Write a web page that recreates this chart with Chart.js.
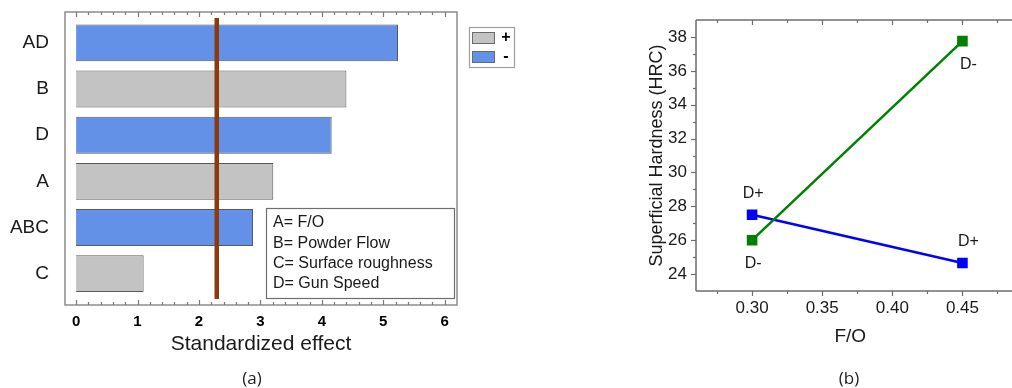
<!DOCTYPE html>
<html>
<head>
<meta charset="utf-8">
<script src="https://cdn.jsdelivr.net/npm/chart.js@4.4.1/dist/chart.umd.min.js"></script>
<style>
  html, body { margin: 0; padding: 0; background: #fff; width: 1012px; height: 388px; overflow: hidden; }
  #wrapA { position: absolute; left: 0; top: 0; width: 560px; height: 388px; }
  #wrapB { position: absolute; left: 560px; top: 0; width: 452px; height: 388px; }
  .cap { position: absolute; top: 366px; width: 60px; text-align: center; line-height: 24px;
         font: 17px "Open Sans", sans-serif; color: #222; }
</style>
</head>
<body>
<div id="wrapA"><canvas id="effects" width="560" height="388"></canvas></div>
<div id="wrapB"><canvas id="hardness" width="452" height="388"></canvas></div>
<div class="cap" style="left:222px">(a)</div>
<div class="cap" style="left:819px">(b)</div>
<script>
const FONT = '"Liberation Sans", Arial, sans-serif';
const INK = '#1a1a1a';

// (a) Pareto of standardized effects
const factors = ['AD', 'B', 'D', 'A', 'ABC', 'C'];
const effects = [5.24, 4.40, 4.16, 3.21, 2.88, 1.10];
const effectSigns = ['-', '+', '-', '+', '-', '+'];
const effectTicks = [0, 1, 2, 3, 4, 5, 6];
const criticalEffect = 2.29;
const factorKey = ['A= F/O', 'B= Powder Flow', 'C= Surface roughness', 'D= Gun Speed'];

// (b) interaction plot F/O x D
const foLevels = [0.30, 0.45];
const hardnessDMinus = [26.0, 37.75];
const hardnessDPlus = [27.5, 24.65];
const labelsDMinus = ['D-', 'D-'];
const labelsDPlus = ['D+', 'D+'];
const foTicks = [0.30, 0.35, 0.40, 0.45];
const hardnessTicks = [24, 26, 28, 30, 32, 34, 36, 38];

const PLUS_COLOR = '#C3C3C3';
const MINUS_COLOR = '#6391E8';

function signSeries(sign) {
  return factors
    .map((f, i) => ({ x: effects[i], y: i, s: effectSigns[i] }))
    .filter(p => p.s === sign);
}

const effectsDecor = {
  id: 'effectsDecor',
  afterDraw(chart) {
    const { ctx, chartArea: a, scales: { x, y } } = chart;
    ctx.save();
    // frame
    ctx.strokeStyle = '#8c8c8c';
    ctx.lineWidth = 1.5;
    ctx.strokeRect(a.left, a.top, a.right - a.left, a.bottom - a.top);
    // inward ticks on bottom and top edges
    ctx.lineWidth = 1.2;
    ctx.strokeStyle = '#7a7a7a';
    for (let k = 0; k <= 30; k++) {
      const v = k / 5;
      const px = Math.round(x.getPixelForValue(v)) + 0.5;
      const len = (k % 5 === 0) ? 5 : 3;
      ctx.beginPath();
      ctx.moveTo(px, a.bottom); ctx.lineTo(px, a.bottom - len);
      ctx.moveTo(px, a.top); ctx.lineTo(px, a.top + len);
      ctx.stroke();
    }
    // factor names on the category axis
    ctx.fillStyle = INK;
    ctx.font = '19px ' + FONT;
    ctx.textAlign = 'right';
    ctx.textBaseline = 'middle';
    factors.forEach((f, i) => ctx.fillText(f, a.left - 16, y.getPixelForValue(i)));

    // critical effect line
    const cx = x.getPixelForValue(criticalEffect);
    ctx.strokeStyle = '#8B3A0E';
    ctx.lineWidth = 4.5;
    ctx.beginPath();
    ctx.moveTo(cx, a.top + 6);
    ctx.lineTo(cx, a.bottom - 6);
    ctx.stroke();

    // factor key box
    ctx.fillStyle = '#fff';
    ctx.fillRect(266, 208, 188, 90);
    ctx.strokeStyle = '#6e6e6e';
    ctx.lineWidth = 1.2;
    ctx.strokeRect(266.5, 208.5, 188, 90);
    ctx.fillStyle = INK;
    ctx.font = '16px ' + FONT;
    ctx.textBaseline = 'middle';
    ctx.textAlign = 'left';
    factorKey.forEach((t, i) => ctx.fillText(t, 273, 223 + i * 20.3));

    // sign legend
    ctx.strokeStyle = '#a0a0a0';
    ctx.strokeRect(469.5, 27.5, 45, 40);
    const ds = chart.data.datasets;
    [[ds[0], 32], [ds[1], 51]].forEach(([d, yy]) => {
      ctx.fillStyle = d.backgroundColor;
      ctx.fillRect(472, yy, 22, 11);
      ctx.strokeStyle = '#6a6a6a';
      ctx.lineWidth = 1;
      ctx.strokeRect(472.5, yy + 0.5, 22, 11);
      ctx.fillStyle = '#000';
      ctx.font = 'bold 16px ' + FONT;
      ctx.textAlign = 'center';
      ctx.fillText(d.label, 506, yy + 6);
    });
    ctx.restore();
  }
};

new Chart(document.getElementById('effects'), {
  type: 'bar',
  data: {
    datasets: [
      { label: '+', data: signSeries('+'), backgroundColor: PLUS_COLOR },
      { label: '-', data: signSeries('-'), backgroundColor: MINUS_COLOR }
    ]
  },
  options: {
    indexAxis: 'y',
    responsive: false,
    animation: false,
    grouped: false,
    barPercentage: 0.8,
    categoryPercentage: 1,
    borderWidth: 1,
    borderColor: '#5a5a5a',
    layout: { padding: { left: 0, top: 12, right: 103, bottom: 31 } },
    plugins: { legend: { display: false }, tooltip: { enabled: false } },
    scales: {
      x: {
        type: 'linear', min: -0.18, max: 6.2, offset: false,
        afterBuildTicks: s => { s.ticks = effectTicks.map(v => ({ value: v })); },
        afterFit: s => { s.height = 52; },
        grid: { display: false, drawTicks: false },
        border: { display: false },
        ticks: { autoSkip: false, maxRotation: 0, padding: 8, color: '#000',
                 font: { family: FONT, size: 15, weight: 'bold' } },
        title: { display: true, text: 'Standardized effect', color: INK, padding: 0,
                 font: { family: FONT, size: 21 } }
      },
      y: {
        type: 'linear', reverse: true, min: -0.67, max: 5.68, offset: false,
        afterBuildTicks: s => { s.ticks = factors.map((f, i) => ({ value: i })); },
        afterFit: s => { s.width = 65; },
        grid: { display: false, drawTicks: false },
        border: { display: false },
        ticks: { display: false }
      }
    }
  },
  plugins: [effectsDecor]
});

const hardnessDecor = {
  id: 'hardnessDecor',
  afterDraw(chart) {
    const { ctx, chartArea: a, scales: { x, y } } = chart;
    ctx.save();
    ctx.strokeStyle = '#6e6e6e';
    ctx.lineWidth = 1.5;
    ctx.beginPath();
    ctx.moveTo(a.left, a.top); ctx.lineTo(a.left, a.bottom);
    ctx.moveTo(a.left, a.bottom); ctx.lineTo(chart.width, a.bottom);
    ctx.moveTo(a.left, a.top); ctx.lineTo(chart.width, a.top);
    ctx.stroke();
    ctx.lineWidth = 1.2;
    // x ticks: outward on bottom, inward on top
    for (let k = 0; k <= 8; k++) {
      const v = 0.275 + k * 0.025;
      const px = Math.round(x.getPixelForValue(v)) + 0.5;
      if (px > chart.width) continue;
      const len = (k % 2 === 1) ? 5 : 3;
      ctx.beginPath();
      ctx.moveTo(px, a.bottom); ctx.lineTo(px, a.bottom + len);
      ctx.moveTo(px, a.top); ctx.lineTo(px, a.top + len);
      ctx.stroke();
    }
    // y ticks: outward on left
    for (let v = 24; v <= 38; v++) {
      const py = Math.round(y.getPixelForValue(v)) + 0.5;
      const len = (v % 2 === 0) ? 5 : 3;
      ctx.beginPath();
      ctx.moveTo(a.left, py); ctx.lineTo(a.left - len, py);
      ctx.stroke();
    }
    // level labels next to each marker
    ctx.fillStyle = INK;
    ctx.font = '16px ' + FONT;
    ctx.textAlign = 'center';
    ctx.textBaseline = 'middle';
    chart.data.datasets.forEach((d, di) => {
      const meta = chart.getDatasetMeta(di);
      meta.data.forEach((pt, i) => {
        const dx = i === 0 ? 1 : 6;
        const dy = d.labelBelow[i] ? 23 : -21;
        ctx.fillText(d.pointLabels[i], pt.x + dx, pt.y + dy);
      });
    });
    ctx.restore();
  }
};

new Chart(document.getElementById('hardness'), {
  type: 'line',
  data: {
    datasets: [
      { label: 'D-', data: foLevels.map((f, i) => ({ x: f, y: hardnessDMinus[i] })),
        borderColor: '#008000', backgroundColor: '#008000',
        pointLabels: labelsDMinus, labelBelow: [true, true] },
      { label: 'D+', data: foLevels.map((f, i) => ({ x: f, y: hardnessDPlus[i] })),
        borderColor: '#0000FF', backgroundColor: '#0000FF',
        pointLabels: labelsDPlus, labelBelow: [false, false] }
    ]
  },
  options: {
    responsive: false,
    animation: false,
    borderWidth: 2.5,
    pointStyle: 'rect',
    pointRadius: 7.5,
    pointBorderWidth: 0,
    layout: { padding: { left: 75, top: 20, right: 4, bottom: 40 } },
    plugins: { legend: { display: false }, tooltip: { enabled: false } },
    scales: {
      x: {
        type: 'linear', min: 0.26, max: 0.48,
        afterBuildTicks: s => { s.ticks = foTicks.map(v => ({ value: v })); },
        afterFit: s => { s.height = 57; },
        grid: { display: false, drawTicks: false },
        border: { display: false },
        ticks: { autoSkip: false, maxRotation: 0, padding: 7, color: INK,
                 callback: v => Number(v).toFixed(2),
                 font: { family: FONT, size: 17 } },
        title: { display: true, text: 'F/O', color: INK, padding: 0,
                 font: { family: FONT, size: 19 } }
      },
      y: {
        type: 'linear', min: 23, max: 39,
        afterBuildTicks: s => { s.ticks = hardnessTicks.map(v => ({ value: v })); },
        afterFit: s => { s.width = 61; },
        grid: { display: false, drawTicks: false },
        border: { display: false },
        ticks: { autoSkip: false, padding: 9, color: INK,
                 font: { family: FONT, size: 17 } },
        title: { display: true, text: 'Superficial Hardness (HRC)', color: INK,
                 padding: { top: 11, bottom: 0 },
                 font: { family: FONT, size: 18 } }
      }
    }
  },
  plugins: [hardnessDecor]
});
</script>
</body>
</html>
